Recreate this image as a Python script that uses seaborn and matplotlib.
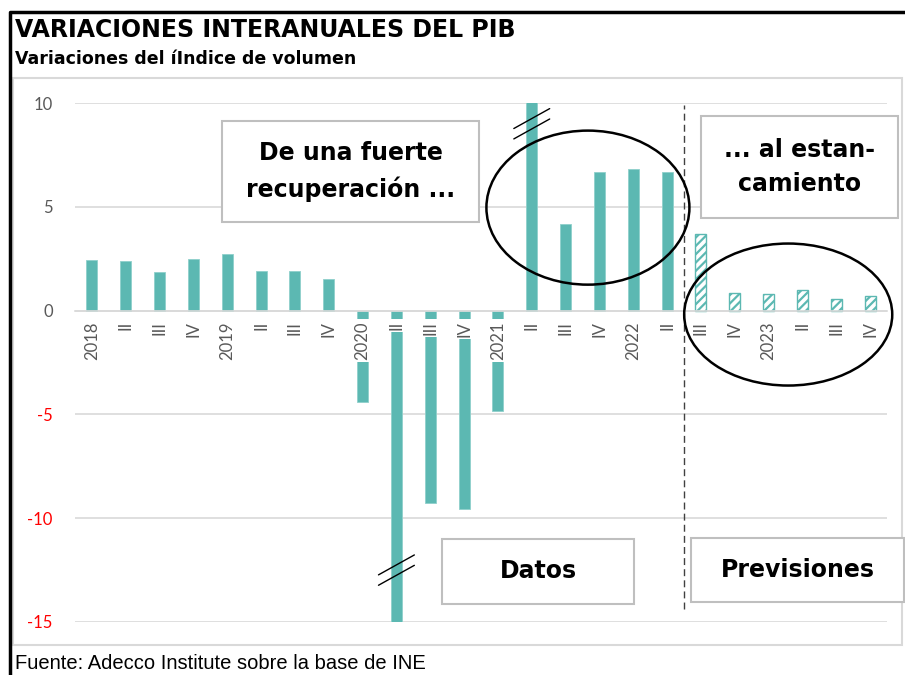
import pandas as pd
import seaborn as sns
import matplotlib.pyplot as plt
from matplotlib.patches import Ellipse, Rectangle
from matplotlib.lines import Line2D

# Datos: variación interanual del PIB (%), 2018-I a 2023-IV
anios = [2018, 2019, 2020, 2021, 2022, 2023]
trimestres = ['2018', 'II', 'III', 'IV', '2019', 'II', 'III', 'IV',
              '2020', 'II', 'III', 'IV', '2021', 'II', 'III', 'IV',
              '2022', 'II', 'III', 'IV', '2023', 'II', 'III', 'IV']
variacion = [2.45, 2.37, 1.84, 2.50, 2.75, 1.93, 1.93, 1.50,
             -4.40, -21.6, -9.27, -9.56, -4.83, 17.8, 4.15, 6.67,
             6.80, 6.70, 3.67, 0.87, 0.82, 0.97, 0.58, 0.72]
tipo = ['Datos'] * 18 + ['Previsiones'] * 6
yticks = [-15, -10, -5, 0, 5, 10]

periodo = [f'{a}T{q}' for a in anios for q in range(1, 5)]
df = pd.DataFrame({'periodo': periodo, 'variacion': variacion, 'tipo': tipo})

W, H = 905, 675
TEAL = '#5cb8b2'
GRIS = '#d9d9d9'

sns.set_style('white')
plt.rcParams['font.family'] = ['DejaVu Sans']
plt.rcParams['text.color'] = 'black'
plt.rcParams['axes.unicode_minus'] = False
plt.rcParams['hatch.linewidth'] = 1.6

fig = plt.figure(figsize=(W / 100, H / 100), dpi=100)
ax = fig.add_axes([75 / W, 1 - 622 / H, 812 / W, 519 / H])

sns.barplot(data=df, x='periodo', y='variacion', color=TEAL, saturation=1,
            width=0.33, ax=ax, zorder=2, edgecolor='#8fd0cb', linewidth=0.6)

# barras de previsión rayadas
for barra, t in zip(ax.patches, df['tipo']):
    if t == 'Previsiones':
        barra.set_facecolor('white')
        barra.set_edgecolor(TEAL)
        barra.set_hatch('////')
        barra.set_linewidth(1.0)

ax.set_ylim(-15, 10)
ax.set_yticks(yticks)
ax.set_xticks(range(len(trimestres)), trimestres)
ax.set_xlabel('')
ax.set_ylabel('')

# eje horizontal en el cero, etiquetas con fondo blanco encima de las barras
for s in ['top', 'right', 'left']:
    ax.spines[s].set_visible(False)
ax.spines['bottom'].set_position(('data', 0))
ax.spines['bottom'].set_color(GRIS)
ax.spines['bottom'].set_linewidth(1.2)
ax.yaxis.grid(True, color=GRIS, lw=1.2)
ax.xaxis.grid(False)
ax.xaxis.set_zorder(3.5)
ax.yaxis.set_zorder(0.5)

ax.tick_params(axis='x', length=0, pad=7.5, rotation=90, labelsize=12,
               labelcolor='#595959')
ax.tick_params(axis='y', length=0, pad=16, labelsize=12, labelcolor='#595959')
for lab in ax.get_xticklabels():
    lab.set_fontfamily(['Lato', 'DejaVu Sans'])
    lab.set_bbox(dict(facecolor='white', edgecolor='none', pad=1.5))
for lab, v in zip(ax.get_yticklabels(), yticks):
    lab.set_fontfamily(['Lato', 'DejaVu Sans'])
    if v < 0:
        lab.set_color('#ff0000')

# marcas de corte en las barras que se salen de la escala
ymin, ymax = ax.get_ylim()
for i, v in enumerate(variacion):
    if v < ymin:
        yc = ymin + 2.5
    elif v > ymax:
        yc = ymax - 1.0
    else:
        continue
    for d in (0.25, -0.25):
        ax.plot([i - 0.53, i + 0.53], [yc + d - 0.48, yc + d + 0.48],
                color='black', lw=1, zorder=4, clip_on=False)

# separación datos / previsiones
n_datos = tipo.count('Datos')
ax.vlines(n_datos - 0.5, -14.35, 9.9, colors='#404040',
          linestyles=(0, (5, 3)), lw=1, zorder=3)

# elipses
ax.add_patch(Ellipse((14.66, 4.96), 6.0, 7.42, fill=False, ec='black',
                     lw=1.8, zorder=4, clip_on=False))
ax.add_patch(Ellipse((20.58, -0.19), 6.15, 6.84, fill=False, ec='black',
                     lw=1.8, zorder=4, clip_on=False))

ax.set_xlim(-0.5, len(trimestres) - 0.5)
ax.set_ylim(ymin, ymax)


def caja(x0, y0, x1, y1, texto):
    fig.add_artist(Rectangle((x0 / W, 1 - y1 / H), (x1 - x0) / W, (y1 - y0) / H,
                             transform=fig.transFigure, fc='white', ec='#bfbfbf',
                             lw=1.5, zorder=5))
    fig.text((x0 + x1) / 2 / W, 1 - (y0 + y1) / 2 / H, texto, ha='center',
             va='center', fontsize=17, fontweight='bold', zorder=6,
             linespacing=1.55, color='black')


caja(222, 121, 479, 222, 'De una fuerte\nrecuperación ...')
caja(701, 116, 898, 218, '... al estan-\ncamiento')
caja(442, 539, 634, 604, 'Datos')
caja(691, 538, 904, 602, 'Previsiones')

# marcos
fig.add_artist(Rectangle((13 / W, 1 - 645 / H), 889 / W, 567 / H,
                         transform=fig.transFigure, fill=False, ec=GRIS, lw=1.5))
fig.add_artist(Line2D([10 / W, 10 / W, 1.01], [-0.01, 1 - 12 / H, 1 - 12 / H],
                      transform=fig.transFigure, color='black', lw=2.5))

fig.text(15 / W, 1 - 18 / H, 'VARIACIONES INTERANUALES DEL PIB', ha='left',
         va='top', fontsize=17, fontweight='bold', color='black')
fig.text(15 / W, 1 - 50 / H, 'Variaciones del íIndice de volumen', ha='left',
         va='top', fontsize=12.5, fontweight='bold', color='black')
fig.text(15 / W, 1 - 654 / H, 'Fuente: Adecco Institute sobre la base de INE',
         ha='left', va='top', fontsize=14.5, family=['Liberation Sans'],
         color='black')

fig.savefig('out.png', dpi=100)
